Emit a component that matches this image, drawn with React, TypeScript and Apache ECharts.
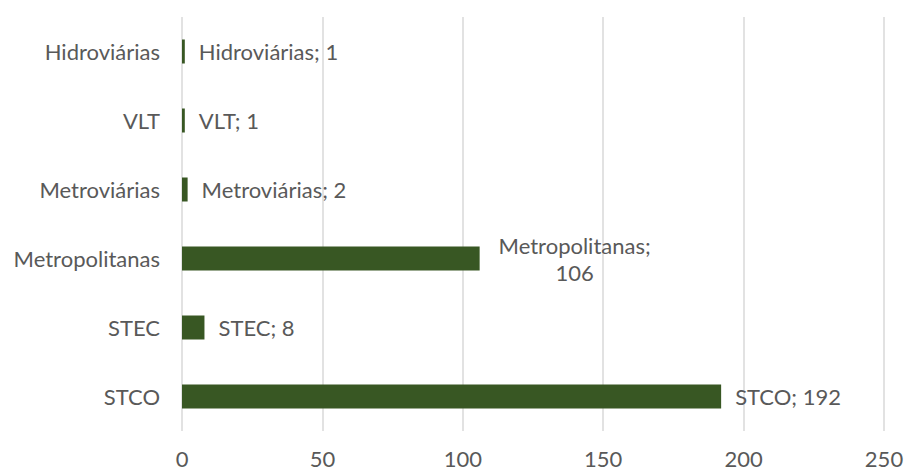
import React, { useEffect, useRef } from "react";
import * as echarts from "echarts";

const categories = ["STCO", "STEC", "Metropolitanas", "Metroviárias", "VLT", "Hidroviárias"];
const values = [192, 8, 106, 2, 1, 1];
const xTicks = [0, 50, 100, 150, 200, 250];

const FONT = "Lato";
const TEXT = "#595959";
const BAR = "#385723";

export default function App() {
  const ref = useRef<HTMLDivElement>(null);
  useEffect(() => {
    const chart = echarts.init(ref.current!, null, { renderer: "svg" });
    chart.setOption({
      animation: false,
      grid: {
        left: 182,
        right: 21,
        top: 17,
        bottom: 39,
        containLabel: false,
        outerBoundsMode: "none",
      },
      xAxis: {
        type: "value",
        min: xTicks[0],
        max: xTicks[xTicks.length - 1],
        interval: 50,
        axisLine: { show: false },
        axisTick: { show: false },
        splitLine: { show: true, lineStyle: { color: "#d9d9d9", width: 1.5 } },
        axisLabel: { color: TEXT, fontFamily: FONT, fontSize: 22, margin: 16 },
      },
      yAxis: {
        type: "category",
        data: categories,
        axisLine: { show: false },
        axisTick: { show: false },
        axisLabel: { color: TEXT, fontFamily: FONT, fontSize: 22, margin: 22 },
      },
      series: [
        {
          type: "bar",
          barWidth: 24,
          itemStyle: { color: BAR },
          data: values.map((v, i) =>
            categories[i] === "Metropolitanas"
              ? {
                  value: v,
                  label: {
                    formatter: `${categories[i]};\n${v}`,
                    align: "center",
                    distance: 95,
                    lineHeight: 27,
                  },
                }
              : v
          ),
          label: {
            show: true,
            position: "right",
            distance: 14,
            color: TEXT,
            fontFamily: FONT,
            fontSize: 22,
            formatter: (p: any) => `${p.name}; ${p.value}`,
          },
        },
      ],
    });
    return () => chart.dispose();
  }, []);
  return (
    <div
      ref={ref}
      style={{ position: "absolute", left: 0, top: 0, width: 905, height: 470 }}
    />
  );
}
